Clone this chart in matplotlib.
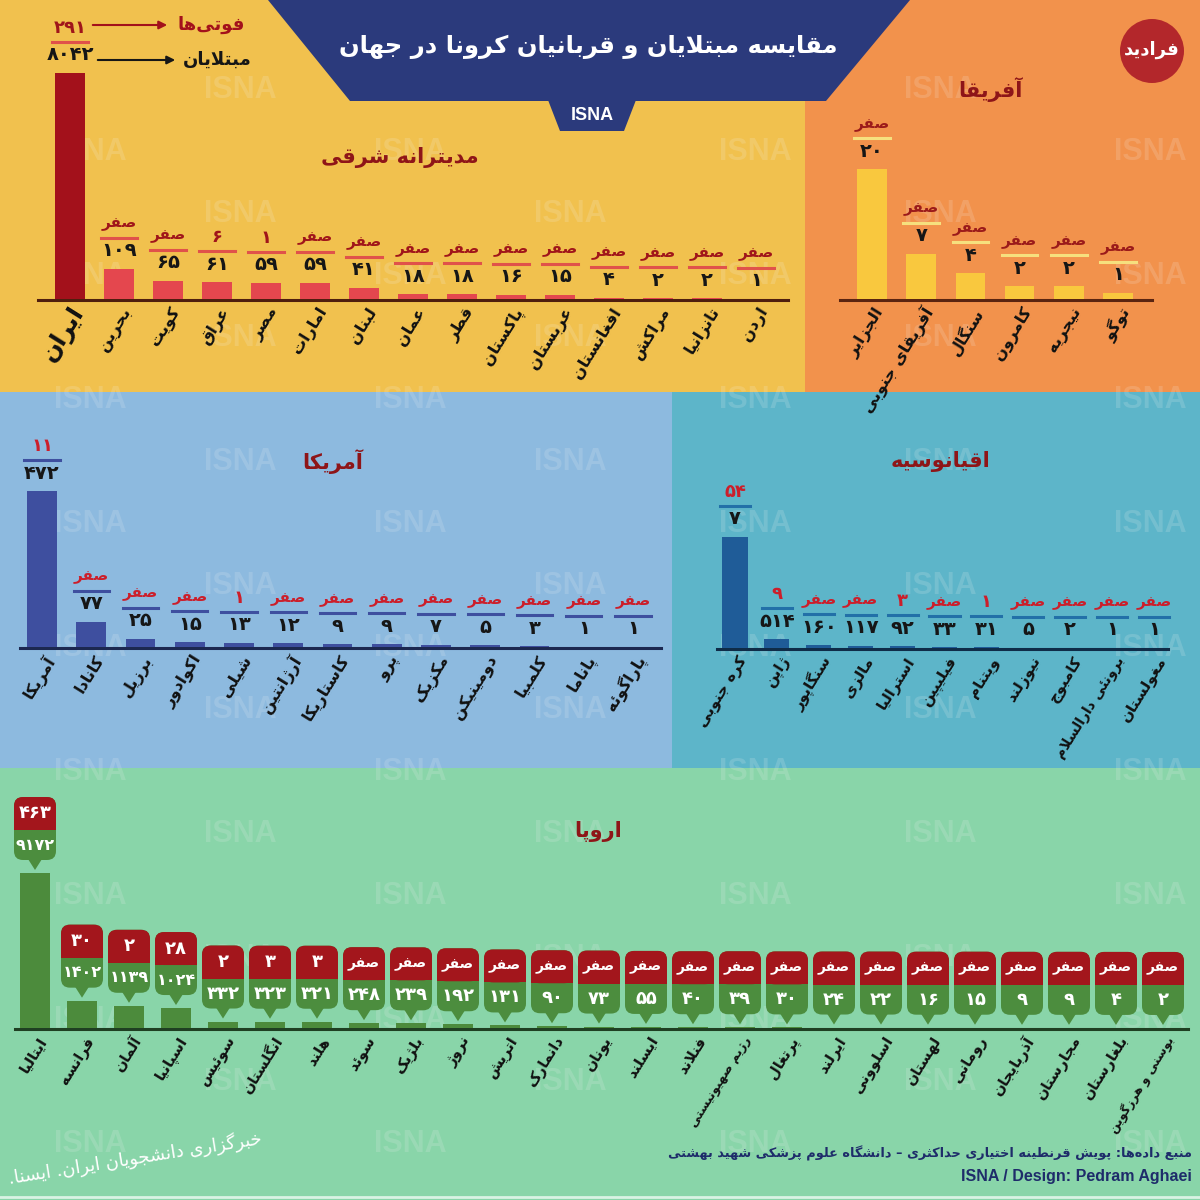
import numpy as np
import matplotlib.pyplot as plt
from matplotlib.patches import Rectangle, Polygon, FancyBboxPatch, Circle
import matplotlib.transforms as mtransforms

plt.rcParams['font.family'] = ['DejaVu Sans']

W = H = 1200

# Donnees

me_countries = ["ایران", "بحرین", "کویت", "عراق", "مصر", "امارات", "لبنان", "عمان", "قطر",
                "پاکستان", "عربستان", "افغانستان", "مراکش", "تانزانیا", "اردن"]
me_cases = [8042, 109, 65, 61, 59, 59, 41, 18, 18, 16, 15, 4, 2, 2, 1]
me_deaths = [291, 0, 0, 6, 1, 0, 0, 0, 0, 0, 0, 0, 0, 0, 0]

af_countries = ["الجزایر", "آفریقای جنوبی", "سنگال", "کامرون", "نیجریه", "توگو"]
af_cases = [20, 7, 4, 2, 2, 1]
af_deaths = [0, 0, 0, 0, 0, 0]

am_countries = ["آمریکا", "کانادا", "برزیل", "اکوادور", "شیلی", "آرژانتین", "کاستاریکا",
                "پرو", "مکزیک", "دومینیکن", "کلمبیا", "پاناما", "پاراگوئه"]
am_cases = [472, 77, 25, 15, 13, 12, 9, 9, 7, 5, 3, 1, 1]
am_deaths = [11, 0, 0, 0, 1, 0, 0, 0, 0, 0, 0, 0, 0]

oc_countries = ["کره جنوبی", "ژاپن", "سنگاپور", "مالزی", "استرالیا", "فیلیپین", "ویتنام",
                "نیوزلند", "کامبوج", "برونئی دارالسلام", "مغولستان"]
# la barre de la coree est tronquee, l'image affiche "۷" (milliers)
oc_cases = [7000, 514, 160, 117, 92, 33, 31, 5, 2, 1, 1]
oc_case_text = {0: "۷"}
oc_deaths = [54, 9, 0, 0, 3, 0, 1, 0, 0, 0, 0]

eu_countries = ["ایتالیا", "فرانسه", "آلمان", "اسپانیا", "سوئیس", "انگلستان", "هلند", "سوئد",
                "بلژیک", "نروژ", "اتریش", "دانمارک", "یونان", "ایسلند", "فنلاند",
                "رژیم صهیونیستی", "پرتغال", "ایرلند", "اسلوونی", "لهستان", "رومانی",
                "آذربایجان", "مجارستان", "بلغارستان", "بوسنی و هرزگوین"]
eu_cases = [9172, 1402, 1139, 1024, 332, 323, 321, 248, 239, 192, 131, 90, 73, 55, 40,
            39, 30, 24, 22, 16, 15, 9, 9, 4, 2]
eu_deaths = [463, 30, 2, 28, 2, 3, 3, 0, 0, 0, 0, 0, 0, 0, 0, 0, 0, 0, 0, 0, 0, 0, 0, 0, 0]


# Mise en forme du texte persan (formes contextuelles + sens droite-gauche)

_TABLE = [
    ("\u0621", 0xFE80, 1), ("\u0622", 0xFE81, 2), ("\u0623", 0xFE83, 2), ("\u0624", 0xFE85, 2),
    ("\u0625", 0xFE87, 2), ("\u0626", 0xFE89, 4), ("\u0627", 0xFE8D, 2), ("\u0628", 0xFE8F, 4),
    ("\u0629", 0xFE93, 2), ("\u062A", 0xFE95, 4), ("\u062B", 0xFE99, 4), ("\u062C", 0xFE9D, 4),
    ("\u062D", 0xFEA1, 4), ("\u062E", 0xFEA5, 4), ("\u062F", 0xFEA9, 2), ("\u0630", 0xFEAB, 2),
    ("\u0631", 0xFEAD, 2), ("\u0632", 0xFEAF, 2), ("\u0633", 0xFEB1, 4), ("\u0634", 0xFEB5, 4),
    ("\u0635", 0xFEB9, 4), ("\u0636", 0xFEBD, 4), ("\u0637", 0xFEC1, 4), ("\u0638", 0xFEC5, 4),
    ("\u0639", 0xFEC9, 4), ("\u063A", 0xFECD, 4), ("\u0641", 0xFED1, 4), ("\u0642", 0xFED5, 4),
    ("\u0644", 0xFEDD, 4), ("\u0645", 0xFEE1, 4), ("\u0646", 0xFEE5, 4), ("\u0647", 0xFEE9, 4),
    ("\u0648", 0xFEED, 2), ("\u0649", 0xFEEF, 2),
    ("\u067E", 0xFB56, 4), ("\u0686", 0xFB7A, 4), ("\u0698", 0xFB8A, 2), ("\u06A9", 0xFB8E, 4),
    ("\u06AF", 0xFB92, 4), ("\u06CC", 0xFBFC, 4),
]
FORMS = {c: (b, k) for c, b, k in _TABLE}


def fa(text):
    text = text.replace("\u0643", "\u06A9").replace("\u064A", "\u06CC")
    out = []
    i = 0
    n = len(text)
    while i < n:
        c = text[i]
        if c == "\u200c":
            i += 1
            continue
        if c not in FORMS:
            out.append(c)
            i += 1
            continue
        prev = text[i - 1] if i > 0 else ""
        joined = prev in FORMS and FORMS[prev][1] == 4
        if c == "\u0644" and i + 1 < n and text[i + 1] in ("\u0627", "\u0622"):
            base = 0xFEFB if text[i + 1] == "\u0627" else 0xFEF5
            out.append(chr(base + (1 if joined else 0)))
            i += 2
            continue
        base, k = FORMS[c]
        nxt = text[i + 1] if i + 1 < n else ""
        to_next = k == 4 and nxt in FORMS
        if k == 1:
            g = base
        elif joined and to_next:
            g = base + 3
        elif joined:
            g = base + 1
        elif to_next:
            g = base + 2
        else:
            g = base
        out.append(chr(g))
        i += 1
    return "".join(reversed(out))


def fa_num(v):
    return str(v).translate(str.maketrans("0123456789", "۰۱۲۳۴۵۶۷۸۹"))


def death_txt(v):
    return fa("صفر") if v == 0 else fa_num(v)


# Figure

fig = plt.figure(figsize=(12, 12), dpi=100)
bg = fig.add_axes([0, 0, 1, 1])
bg.set_xlim(0, W)
bg.set_ylim(H, 0)
bg.axis("off")


def frac(left, top, right, bottom):
    return [left / W, 1 - bottom / H, (right - left) / W, (bottom - top) / H]


# fonds
bg.add_patch(Rectangle((0, 0), 805, 392, color="#F1C14E", lw=0))
bg.add_patch(Rectangle((805, 0), 395, 392, color="#F2924C", lw=0))
bg.add_patch(Rectangle((0, 392), 672, 376, color="#8DBADF", lw=0))
bg.add_patch(Rectangle((672, 392), 528, 376, color="#5DB5C9", lw=0))
bg.add_patch(Rectangle((0, 768), 1200, 432, color="#89D5A9", lw=0))
bg.plot([0, 1200], [1197, 1197], color="#d9f3e4", lw=2)

# filigrane ISNA
row_a = [90, 410, 755, 1150]
row_b = [240, 570, 940]
for r, yy in enumerate(np.arange(90, 1180, 62)):
    for xx in (row_b if r % 2 == 0 else row_a):
        bg.text(xx, yy, "ISNA", fontsize=22, fontweight="bold", family="Liberation Sans",
                color="#f4f4f4", alpha=0.16, ha="center", va="center", zorder=1)

# bandeau titre
bg.add_patch(Polygon([(268, 0), (910, 0), (826, 101), (350, 101)], closed=True,
                     color="#2B3A7C", lw=0, zorder=3))
bg.add_patch(Polygon([(548, 100), (636, 100), (624, 131), (560, 131)], closed=True,
                     color="#2B3A7C", lw=0, zorder=3))
bg.text(588, 47, fa("مقایسه مبتلایان و قربانیان کرونا در جهان"), fontsize=17.5,
        fontweight="bold", color="white", ha="center", va="center", zorder=4)
bg.text(592, 116, "ISNA", fontsize=13, fontweight="bold", family="Liberation Sans",
        color="white", ha="center", va="center", zorder=4)

# logo
bg.add_patch(Circle((1152, 51), 32, color="#B3272B", lw=0, zorder=3))
bg.text(1152, 50, fa("فرادید"), fontsize=13, fontweight="bold", color="white",
        ha="center", va="center", zorder=4)

# titres des regions
for txt, xx, yy in [("مدیترانه شرقی", 400, 157), ("آفریقا", 990, 90), ("آمریکا", 333, 462),
                    ("اقیانوسیه", 940, 462), ("اروپا", 598, 832)]:
    bg.text(xx, yy, fa(txt), fontsize=15, fontweight="bold", color="#8E1518",
            ha="center", va="center", zorder=4)


def region(countries, cases, deaths, x0, dx, base, top, ymax, bar_color, line_color,
           death_color, base_color, line_x, label_size=11.5, case_text=None, balloons=False,
           width=0.6, first_label_size=None, long_label_size=None):
    n = len(countries)
    ax = fig.add_axes(frac(x0 - dx / 2, top, x0 + dx * (n - 0.5), base))
    ax.set_xlim(-0.5, n - 0.5)
    ax.set_ylim(0, ymax)
    ax.axis("off")
    x = np.arange(n)
    ax.bar(x, cases, width=width, color=bar_color, zorder=2)
    tops = np.minimum(cases, ymax)
    bg.plot(line_x, [base + 1, base + 1], color=base_color, lw=2.2, zorder=5)
    for i in range(n):
        ctxt = fa_num(cases[i])
        if case_text and i in case_text:
            ctxt = case_text[i]
        if balloons:
            tx, ty = bg.transData.inverted().transform(ax.transData.transform((i, tops[i])))
            ty -= 3
            bw, r = 42, 9
            yb = ty - 10
            ys = yb - 30
            yt = ys - 33
            bg.add_patch(FancyBboxPatch((tx - bw / 2 + r, yt + r), bw - 2 * r, (yb - yt) - 2 * r,
                                        boxstyle="round,pad=%d" % r, color="#4C8D3E", lw=0, zorder=6))
            bg.add_patch(FancyBboxPatch((tx - bw / 2 + r, yt + r), bw - 2 * r, (ys - yt) - 2 * r,
                                        boxstyle="round,pad=%d" % r, color="#A3161C", lw=0, zorder=6))
            bg.add_patch(Rectangle((tx - bw / 2, ys - r), bw, r, color="#A3161C", lw=0, zorder=6))
            bg.add_patch(Polygon([(tx - 7, yb - 1), (tx + 7, yb - 1), (tx, ty)], closed=True,
                                 color="#4C8D3E", lw=0, zorder=6))
            dfs = 10 if deaths[i] == 0 else 13
            bg.text(tx, (yt + ys) / 2, death_txt(deaths[i]), fontsize=dfs, fontweight="bold",
                    color="white", ha="center", va="center", zorder=7)
            cfs = 11.5 if cases[i] >= 1000 else 13
            bg.text(tx, (ys + yb) / 2, ctxt, fontsize=cfs, fontweight="bold",
                    color="white", ha="center", va="center", zorder=7)
        else:
            ax.annotate(ctxt, (i, tops[i]), xytext=(0, 18), textcoords="offset pixels",
                        ha="center", va="center", fontsize=14, fontweight="bold",
                        color="#161616", annotation_clip=False)
            tr = mtransforms.offset_copy(ax.transData, fig=fig, x=0, y=31, units="dots")
            ax.plot([i - 0.36, i + 0.36], [tops[i], tops[i]], transform=tr, color=line_color,
                    lw=2.2, clip_on=False)
            ax.annotate(death_txt(deaths[i]), (i, tops[i]), xytext=(0, 45),
                        textcoords="offset pixels", ha="center", va="center",
                        fontsize=11 if deaths[i] == 0 else 13,
                        fontweight="bold", color=death_color, annotation_clip=False)
        fs = label_size
        if i == 0 and first_label_size:
            fs = first_label_size
        if long_label_size and len(countries[i]) > 12:
            fs = long_label_size
        ax.annotate(fa(countries[i]), (i, 0), xytext=(9, -10), textcoords="offset pixels",
                    rotation=58, rotation_mode="anchor", ha="right", va="center",
                    fontsize=fs, fontweight="bold", color="#111111", annotation_clip=False)
    return ax


region(me_countries, me_cases, me_deaths, 70, 49, 299, 73, 815,
       ["#A3111B"] + ["#E4474E"] * 14, "#E0524A", "#A0151A", "#4F1E0E", [38, 788],
       first_label_size=17)
region(af_countries, af_cases, af_deaths, 872, 49.2, 299, 99, 30.8, "#F9C83E", "#F6E07E",
       "#9B1A1A", "#5A2410", [840, 1152])
region(am_countries, am_cases, am_deaths, 42, 49.25, 647, 480, 506, "#3E4F9F", "#3E4F9F",
       "#CC1E2A", "#1C2850", [20, 661])
region(oc_countries, oc_cases, oc_deaths, 735, 41.9, 648, 537, 6343, "#1F5C98", "#2270A8",
       "#CC1E2A", "#0F2C48", [717, 1168], case_text=oc_case_text, label_size=11,
       long_label_size=10)
region(eu_countries, eu_cases, eu_deaths, 35, 47, 1028, 873, 7950, "#4C8B3C", None,
       None, "#1F3F22", [15, 1188], balloons=True, width=0.64, label_size=10.5,
       long_label_size=8.8)

# legende (iran)
bg.annotate("", xy=(170, 25), xytext=(90, 25),
            arrowprops=dict(arrowstyle="-|>", color="#A3111B", lw=1.5, mutation_scale=12))
bg.text(245, 25, fa("فوتی\u200cها"), fontsize=13, fontweight="bold", color="#A3111B",
        ha="right", va="center")
bg.annotate("", xy=(178, 60), xytext=(95, 60),
            arrowprops=dict(arrowstyle="-|>", color="#161616", lw=1.5, mutation_scale=12))
bg.text(252, 60, fa("مبتلایان"), fontsize=13, fontweight="bold", color="#161616",
        ha="right", va="center")

# pied de page
bg.text(1192, 1153, fa("منبع داده\u200cها: پویش قرنطینه اختیاری حداکثری – دانشگاه علوم پزشکی شهید بهشتی"),
        fontsize=9.3, fontweight="bold", color="#1E2C6A", ha="right", va="center")
bg.text(1192, 1177, "ISNA / Design: Pedram Aghaei", fontsize=11.5, fontweight="bold",
        family="Liberation Sans", color="#1E2C6A", ha="right", va="center")
bg.text(135, 1158, fa("خبرگزاری دانشجویان ایران. ایسنا."), fontsize=13, color="white",
        ha="center", va="center", rotation=9)

fig.savefig("out.png", dpi=100)
